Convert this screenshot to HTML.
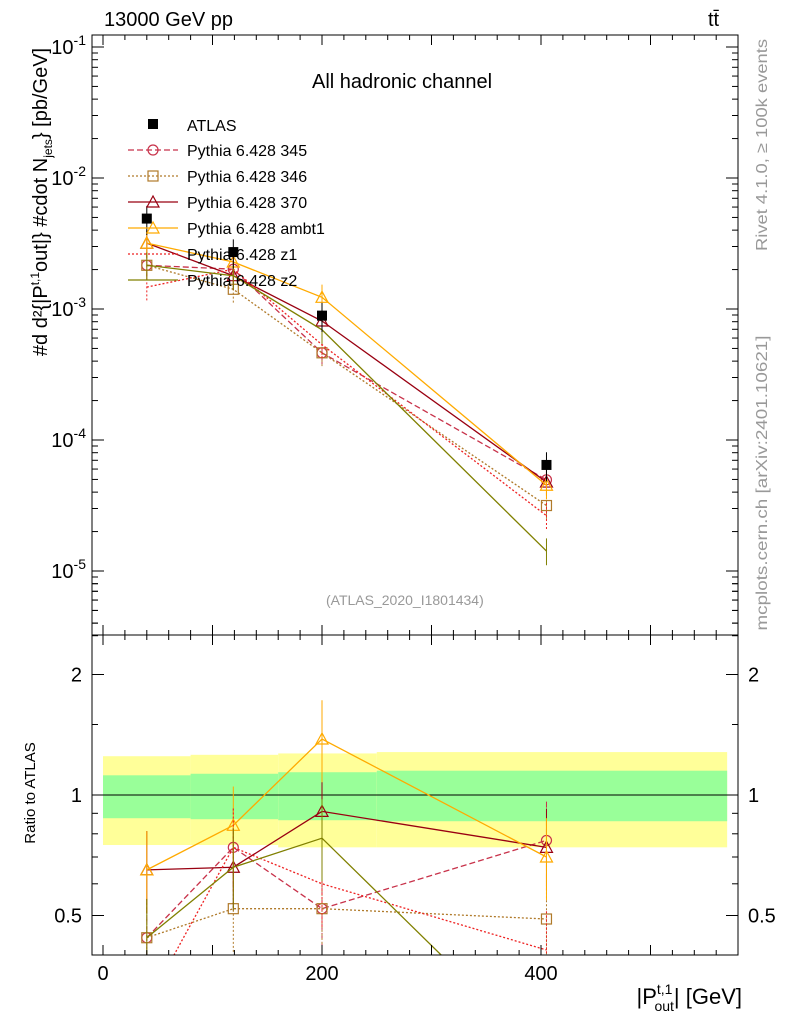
<!DOCTYPE html>
<html><head><meta charset="utf-8"><style>
html,body{margin:0;background:#fff;overflow:hidden;width:786px;height:1024px}
svg{font-family:"Liberation Sans",sans-serif;display:block}
</style></head><body>
<svg id="c" width="786" height="1024"></svg>
<script>
const xCenters=[40,119,200,405];
const xEdges=[0,80,160,250,570];
const dataVals=[4.9e-3,2.72e-3,8.9e-4,6.45e-5];
const dataErr=[0.25,0.25,0.25,0.25];
const yellowLo=[0.75,0.75,0.74,0.74];
const yellowHi=[1.25,1.26,1.27,1.28];
const greenLo=[0.875,0.87,0.865,0.86];
const greenHi=[1.12,1.13,1.14,1.15];
const seriesNames=["Pythia 6.428 345","Pythia 6.428 346","Pythia 6.428 370","Pythia 6.428 ambt1","Pythia 6.428 z1","Pythia 6.428 z2"];
const r345=[0.44,0.74,0.52,0.77];
const r346=[0.44,0.52,0.52,0.49];
const r370=[0.65,0.66,0.91,0.74];
const rAmbt1=[0.65,0.84,1.38,0.70];
const rZ1=[0.30,0.74,0.60,0.41];
const rZ2=[0.44,0.66,0.78,0.22];
const xTicks=[0,200,400];
const yTicks=[-1,-2,-3,-4,-5];
const rTicks=[0.5,1,2];

const svg=document.getElementById('c');
const NS="http://www.w3.org/2000/svg";
function el(t,a,p){const e=document.createElementNS(NS,t);for(const k in a)e.setAttribute(k,a[k]);(p||svg).appendChild(e);return e;}
const X0=92,X1=738,T=35,M=635,B=955;
const xs=v=>103+v*1.095;
const ys=v=>47+(-1-Math.log10(v))*131;
const rs=v=>795-Math.log2(v)*120.5;

const styles=[
 {c:"#c8324a",d:"6,3",m:"circle"},
 {c:"#b07a2a",d:"2,2",m:"square"},
 {c:"#990011",d:"",m:"tri"},
 {c:"#ffaa00",d:"",m:"tri"},
 {c:"#ee2222",d:"2,2",m:"none"},
 {c:"#808000",d:"",m:"none"}];
const ratios=[r345,r346,r370,rAmbt1,rZ1,rZ2];

const defs=el('defs',{});
const c1=el('clipPath',{id:'cm'},defs);el('rect',{x:X0,y:T,width:X1-X0,height:M-T},c1);
const c2=el('clipPath',{id:'cr'},defs);el('rect',{x:X0,y:M,width:X1-X0,height:B-M},c2);

const gb=el('g',{'clip-path':'url(#cr)'});
for(let i=0;i<4;i++){
 const y=el('rect',{x:xs(xEdges[i]),width:xs(xEdges[i+1])-xs(xEdges[i]),y:rs(yellowHi[i]),height:rs(yellowLo[i])-rs(yellowHi[i]),fill:'#ffff99'},gb);
 
 const g=el('rect',{x:xs(xEdges[i]),width:xs(xEdges[i+1])-xs(xEdges[i]),y:rs(greenHi[i]),height:rs(greenLo[i])-rs(greenHi[i]),fill:'#99ff99'},gb);
 
}
el('line',{x1:X0,x2:X1,y1:rs(1),y2:rs(1),stroke:'#000'});

function marker(g,type,x,y,c){
 if(type==='circle')el('circle',{cx:x,cy:y,r:5,fill:'none',stroke:c,'stroke-width':1.2},g);
 else if(type==='square')el('rect',{x:x-5,y:y-5,width:10,height:10,fill:'none',stroke:c,'stroke-width':1.2},g);
 else if(type==='tri')el('polygon',{points:`${x},${y-6} ${x-6},${y+5} ${x+6},${y+5}`,fill:'none',stroke:c,'stroke-width':1.2},g);
}
function drawSeries(clip,scale,vals,st,name){
 const g=el('g',{'clip-path':`url(#${clip})`});
 
 const pts=vals.map((v,i)=>`${xs(xCenters[i])},${scale(v)}`).join(' ');
 el('polyline',{points:pts,fill:'none',stroke:st.c,'stroke-width':1.3,'stroke-dasharray':st.d},g);
 vals.forEach((v,i)=>{
  const x=xs(xCenters[i]);
  el('line',{x1:x,x2:x,y1:scale(v*1.25),y2:scale(v*0.78),stroke:st.c,'stroke-width':1,'stroke-dasharray':st.d},g);
  marker(g,st.m,x,scale(v),st.c);
 });
}
ratios.forEach((r,k)=>{
 drawSeries('cm',ys,r.map((v,i)=>v*dataVals[i]),styles[k],'series-'+k);
 drawSeries('cr',rs,r,styles[k],'ratio-series-'+k);
});
dataVals.forEach((v,i)=>{
 const x=xs(xCenters[i]);
 el('line',{x1:x,x2:x,y1:ys(v*(1+dataErr[i])),y2:ys(v*(1-dataErr[i])),stroke:'#000'});
 const r=el('rect',{x:x-5,y:ys(v)-5,width:10,height:10,fill:'#000'});
 
});

el('rect',{x:X0,y:T,width:X1-X0,height:M-T,fill:'none',stroke:'#000'});
el('rect',{x:X0,y:M,width:X1-X0,height:B-M,fill:'none',stroke:'#000'});
for(let v=0;v<=560;v+=20){const x=xs(v);const big=v%100===0;
 const h=big?10:5;
 el('line',{x1:x,x2:x,y1:B,y2:B-h,stroke:'#000'});
 el('line',{x1:x,x2:x,y1:M,y2:M-h,stroke:'#000'});
 el('line',{x1:x,x2:x,y1:T,y2:T+h,stroke:'#000'});
 el('line',{x1:x,x2:x,y1:M,y2:M+h,stroke:'#000'});
}
xTicks.forEach(v=>{const t=el('text',{x:xs(v),y:980,'font-size':20,'text-anchor':'middle'});t.textContent=v;});
yTicks.forEach(p=>{
 const y=ys(Math.pow(10,p));
 el('line',{x1:X0,x2:X0+12,y1:y,y2:y,stroke:'#000'});el('line',{x1:X1,x2:X1-12,y1:y,y2:y,stroke:'#000'});
 for(let m=2;m<10;m++){const yy=ys(m*Math.pow(10,p-1));if(yy>T&&yy<M){el('line',{x1:X0,x2:X0+6,y1:yy,y2:yy,stroke:'#000'});el('line',{x1:X1,x2:X1-6,y1:yy,y2:yy,stroke:'#000'});}}
 const t=el('text',{x:86,y:y+7,'font-size':20,'text-anchor':'end'});
 t.innerHTML=`10<tspan dy="-9" font-size="14">${p}</tspan>`;
});
for(let m=2;m<10;m++){const yy=ys(m*1e-6);if(yy>T&&yy<M){el('line',{x1:X0,x2:X0+6,y1:yy,y2:yy,stroke:'#000'});el('line',{x1:X1,x2:X1-6,y1:yy,y2:yy,stroke:'#000'});}}
for(let m=2;m<10;m++){const yy=ys(m*1e-1);if(yy>T&&yy<M){el('line',{x1:X0,x2:X0+6,y1:yy,y2:yy,stroke:'#000'});el('line',{x1:X1,x2:X1-6,y1:yy,y2:yy,stroke:'#000'});}}
rTicks.forEach(v=>{const y=rs(v);
 el('line',{x1:X0,x2:X0+12,y1:y,y2:y,stroke:'#000'});el('line',{x1:X1,x2:X1-12,y1:y,y2:y,stroke:'#000'});
 const t=el('text',{x:82,y:y+7,'font-size':20,'text-anchor':'end'});t.textContent=v;
 const t2=el('text',{x:748,y:y+7,'font-size':20});t2.textContent=v;});
for(const v of [0.6,0.7,0.8,0.9,1.5,2.5]){const y=rs(v);if(y>M&&y<B){el('line',{x1:X0,x2:X0+6,y1:y,y2:y,stroke:'#000'});el('line',{x1:X1,x2:X1-6,y1:y,y2:y,stroke:'#000'});}}

const lg=el('g',{});
el('rect',{x:148,y:119,width:10,height:10,fill:'#000'},lg);
let t=el('text',{x:187,y:131,'font-size':16},lg);t.textContent='ATLAS';
seriesNames.forEach((n,k)=>{const y=150+k*26;const st=styles[k];
 el('line',{x1:128,x2:178,y1:y,y2:y,stroke:st.c,'stroke-width':1.3,'stroke-dasharray':st.d},lg);
 marker(lg,st.m,153,y,st.c);
 const tt=el('text',{x:187,y:y+6,'font-size':16},lg);tt.textContent=n;});

function label(name,attrs,html){
 const e=el('text',attrs);
 
 
 e.innerHTML=html;return e;
}
label('x-axis-title',{x:742,y:1004,'font-size':22,'text-anchor':'end'},'|P<tspan dy="-10" font-size="14">t,1</tspan><tspan dx="-18" dy="17" font-size="14">out</tspan><tspan dy="-7">| [GeV]</tspan>');
label('energy-label',{x:104,y:26,'font-size':20},'13000 GeV pp');
label('process-label',{x:708,y:26,'font-size':20},'tt̄');
label('plot-title',{x:312,y:88,'font-size':20},'All hadronic channel');
label('analysis-label',{x:326,y:605,'font-size':14,fill:'#999'},'(ATLAS_2020_I1801434)');
label('ratio-y-title',{x:0,y:0,'font-size':15,'text-anchor':'middle',transform:'translate(35,793) rotate(-90)'},'Ratio to ATLAS');
label('y-axis-title',{x:0,y:0,'font-size':20,'text-anchor':'middle',transform:'translate(47,202) rotate(-90)'},'#d d²{|P<tspan dy="-8" font-size="12">t,1</tspan><tspan dy="8">out|} #cdot N</tspan><tspan dy="5" font-size="12">jets</tspan><tspan dy="-5">} [pb/GeV]</tspan>');
label('rivet-label',{x:0,y:0,'font-size':16,fill:'#999','text-anchor':'middle',textLength:212,lengthAdjust:'spacingAndGlyphs',transform:'translate(767,145) rotate(-90)'},'Rivet 4.1.0, ≥ 100k events');
label('mcplots-label',{x:0,y:0,'font-size':16,fill:'#999','text-anchor':'middle',textLength:295,lengthAdjust:'spacingAndGlyphs',transform:'translate(767,483) rotate(-90)'},'mcplots.cern.ch [arXiv:2401.10621]');
</script>
</body></html>
